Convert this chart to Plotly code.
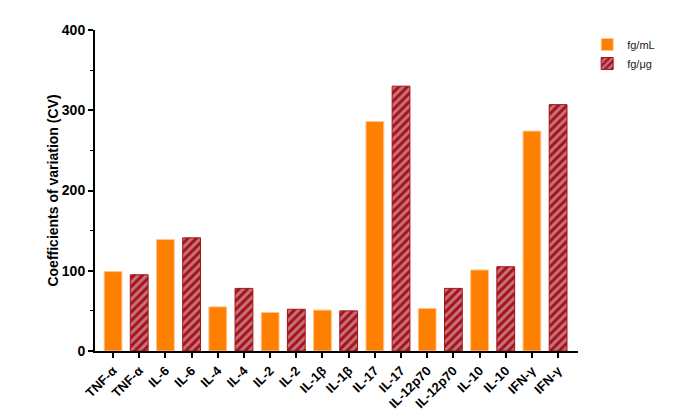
import plotly.graph_objects as go

categories = ["TNF-α", "IL-6", "IL-4", "IL-2", "IL-1β", "IL-17", "IL-12p70", "IL-10", "IFN-γ"]
fg_ml = [99, 139, 55, 48, 51, 286, 53, 101, 274]
fg_ug = [95, 141, 78, 52, 50, 330, 78, 105, 307]
y_ticks = [0, 100, 200, 300, 400]

n = len(categories)
x_ml = [2 * i for i in range(n)]
x_ug = [2 * i + 1 for i in range(n)]
tick_vals = sorted(x_ml + x_ug)
tick_text = [categories[v // 2] for v in tick_vals]

FONT = "Liberation Sans, Arial, sans-serif"

fig = go.Figure()
fig.add_trace(go.Bar(
    x=x_ml, y=fg_ml, name="fg/mL", width=0.68,
    marker=dict(color="#FF8000", line=dict(color="#FFC690", width=1)),
))
fig.add_trace(go.Bar(
    x=x_ug, y=fg_ug, name="fg/μg", width=0.68,
    marker=dict(color="#A8101A", line=dict(color="#A8101A", width=1),
                pattern=dict(shape="/", bgcolor="#A8101A", fgcolor="#DCDCDC",
                             size=6, solidity=0.5, fillmode="overlay")),
))

fig.update_layout(
    width=677, height=411,
    margin=dict(l=95, r=99, t=30, b=60, autoexpand=False),
    plot_bgcolor="white", paper_bgcolor="white",
    font=dict(family=FONT, color="black"),
    showlegend=True,
    legend=dict(x=1.019, y=1.0, xanchor="left", yanchor="top",
                font=dict(size=11, color="#222"), itemwidth=30,
                tracegroupgap=2, bgcolor="rgba(0,0,0,0)"),
)
fig.update_xaxes(
    range=[-0.69, 17.76], tickmode="array", tickvals=tick_vals, ticktext=tick_text,
    tickangle=-45, tickfont=dict(size=13, family=FONT, weight="bold"),
    showline=True, linecolor="black", linewidth=2, ticks="outside", ticklen=5,
    tickwidth=1.5, tickcolor="black", showgrid=False, zeroline=False,
    automargin=False,
)
fig.update_yaxes(
    range=[0, 400], tickmode="array", tickvals=y_ticks,
    tickfont=dict(size=14, weight="bold"),
    title=dict(text="<b>Coefficients of variation (CV)</b>", font=dict(size=14), standoff=0),
    showline=True, linecolor="black", linewidth=2, ticks="outside", ticklen=5,
    tickwidth=1.5, tickcolor="black", showgrid=False, zeroline=False,
    automargin=False,
    minor=dict(tickvals=[50, 150, 250, 350], ticks="outside", ticklen=3,
               tickwidth=1.2, tickcolor="black"),
)

fig.write_html("out.html", config={"displayModeBar": False},
               post_script="document.body.style.margin='0';")
